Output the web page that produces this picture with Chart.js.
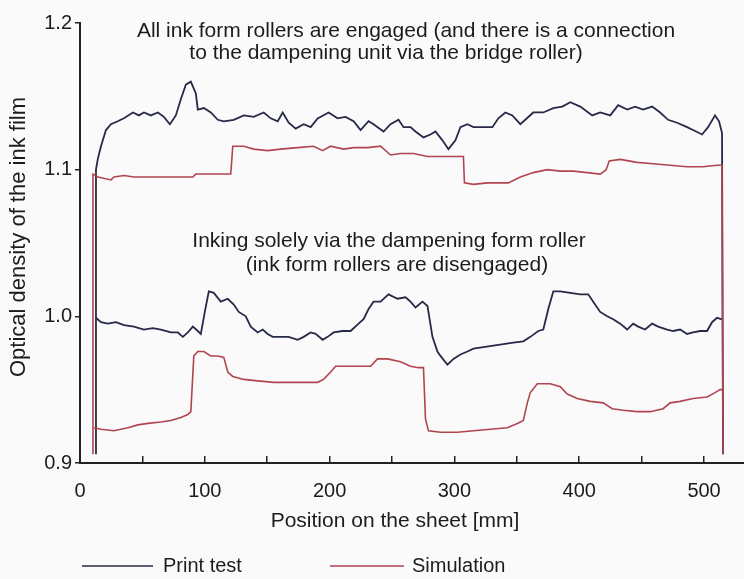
<!DOCTYPE html>
<html>
<head>
<meta charset="utf-8">
<script src="https://cdn.jsdelivr.net/npm/chart.js@4.4.1/dist/chart.umd.min.js"></script>
<style>
  body { margin: 0; background: #fafafa; }
  #wrap { width: 744px; height: 579px; }
</style>
</head>
<body>
<div id="wrap"><canvas id="myCanvasLineGraph" width="744" height="579"></canvas></div>
<script>
// positions on the sheet [mm] and optical densities
var posPrintTop = [12.8, 12.8, 14.2, 16.8, 20.8, 24.8, 30.2, 35.2, 42.4, 47.2, 51.2, 56.8, 62.4, 67.2, 72, 76.8, 80.8, 84.8, 88.8, 92.8, 94.4, 99.2, 104.8, 110.4, 115.2, 123.2, 131.2, 139.2, 147.2, 152.8, 158.4, 162.4, 167.2, 172.8, 179.2, 184.8, 190.4, 199.2, 206.4, 212.8, 219.2, 224.8, 231.2, 235.2, 243.2, 248.8, 255.2, 259.2, 264.8, 268.8, 275.2, 280.8, 284.8, 290.4, 295.2, 300.8, 304.8, 310.4, 315.2, 322.4, 330.4, 335.2, 340.8, 346.4, 352.8, 363.2, 371.2, 379.2, 386.4, 392.8, 400.8, 410.4, 416.8, 424.8, 431.2, 438.4, 444.8, 451.2, 458.4, 464.8, 471.2, 478.4, 486.4, 491.2, 498.4, 503.2, 508.8, 512, 514.4, 515.2];
var densPrintTop = [0.906, 1.100, 1.107, 1.116, 1.127, 1.131, 1.133, 1.135, 1.139, 1.137, 1.139, 1.137, 1.139, 1.136, 1.131, 1.137, 1.148, 1.158, 1.160, 1.152, 1.141, 1.142, 1.139, 1.134, 1.133, 1.134, 1.137, 1.136, 1.139, 1.135, 1.133, 1.139, 1.132, 1.128, 1.131, 1.129, 1.135, 1.139, 1.135, 1.136, 1.133, 1.127, 1.133, 1.131, 1.126, 1.131, 1.134, 1.129, 1.129, 1.126, 1.122, 1.124, 1.126, 1.120, 1.114, 1.120, 1.129, 1.131, 1.129, 1.129, 1.129, 1.135, 1.139, 1.137, 1.131, 1.139, 1.139, 1.142, 1.143, 1.146, 1.143, 1.137, 1.139, 1.137, 1.144, 1.141, 1.143, 1.141, 1.143, 1.139, 1.134, 1.132, 1.129, 1.127, 1.124, 1.129, 1.137, 1.133, 1.125, 0.906];

var posSimTop = [10.4, 10.4, 14.4, 24.8, 27.2, 35.2, 43.2, 54.4, 67.2, 80.8, 90.4, 92.8, 102.4, 112.8, 120.8, 122.4, 131.2, 139.2, 150.4, 160.8, 174.4, 187.2, 194.4, 200.8, 211.2, 219.2, 230.4, 240.8, 248.8, 256.8, 267.2, 278.4, 288.8, 307.2, 308, 315.2, 326.4, 336.8, 343.2, 352.8, 363.2, 374.4, 384.8, 395.2, 406.4, 416.8, 421.6, 424, 432.8, 446.4, 459.2, 472.8, 486.4, 499.2, 510.4, 514.4, 515.2];
var densSimTop = [0.906, 1.097, 1.095, 1.093, 1.095, 1.096, 1.095, 1.095, 1.095, 1.095, 1.095, 1.097, 1.097, 1.097, 1.097, 1.116, 1.116, 1.114, 1.113, 1.114, 1.115, 1.116, 1.113, 1.116, 1.114, 1.115, 1.115, 1.116, 1.110, 1.111, 1.111, 1.109, 1.109, 1.109, 1.091, 1.090, 1.091, 1.091, 1.091, 1.095, 1.098, 1.100, 1.099, 1.099, 1.098, 1.097, 1.100, 1.106, 1.107, 1.105, 1.104, 1.103, 1.102, 1.102, 1.103, 1.103, 0.906];

var posPrintBottom = [12.8, 16.8, 22.4, 28.8, 35.2, 43.2, 51.2, 58.4, 64.8, 72.8, 78.4, 82.4, 86.4, 90.4, 94.4, 96.8, 100, 103.2, 107.2, 112.8, 118.4, 123.2, 127.2, 132.8, 136.8, 142.4, 146.4, 150.4, 154.4, 160.8, 167.2, 174.4, 179.2, 184.8, 188.8, 194.4, 198.4, 203.2, 210.4, 216.8, 223.2, 227.2, 231.2, 235.2, 240.8, 247.2, 254.4, 260.8, 264.8, 268.8, 274.4, 278.4, 282.4, 286.4, 288.8, 294.4, 299.2, 304.8, 310.4, 315.2, 323.2, 331.2, 339.2, 347.2, 355.2, 360.8, 367.2, 371.2, 375.2, 379.2, 384.8, 392.8, 400.8, 407.2, 411.2, 416.8, 422.4, 427.2, 432.8, 438.4, 443.2, 447.2, 452.8, 458.4, 463.2, 470.4, 475.2, 480.8, 486.4, 491.2, 496.8, 502.4, 506.4, 510.4, 514.4];
var densPrintBottom = [0.999, 0.996, 0.995, 0.996, 0.994, 0.993, 0.991, 0.992, 0.991, 0.989, 0.989, 0.986, 0.989, 0.993, 0.990, 0.988, 1.003, 1.017, 1.016, 1.010, 1.012, 1.008, 1.003, 1.000, 0.993, 0.989, 0.991, 0.988, 0.986, 0.986, 0.986, 0.984, 0.986, 0.989, 0.988, 0.984, 0.986, 0.989, 0.990, 0.990, 0.995, 0.998, 1.005, 1.010, 1.010, 1.015, 1.012, 1.013, 1.010, 1.006, 1.010, 1.007, 0.986, 0.976, 0.973, 0.967, 0.971, 0.974, 0.976, 0.978, 0.979, 0.980, 0.981, 0.982, 0.983, 0.986, 0.990, 0.991, 1.005, 1.017, 1.017, 1.016, 1.015, 1.015, 1.010, 1.003, 1.000, 0.998, 0.995, 0.991, 0.995, 0.993, 0.991, 0.995, 0.993, 0.991, 0.990, 0.991, 0.988, 0.989, 0.990, 0.990, 0.996, 0.999, 0.998];

var posSimBottom = [11.2, 16.8, 27.2, 38.4, 46.4, 54.4, 64.8, 72.8, 80.8, 86.4, 88.8, 91.2, 94.4, 99.2, 104.8, 110.4, 115.2, 118.4, 122.4, 131.2, 142.4, 155.2, 168.8, 184.8, 190.4, 195.2, 200.8, 204.8, 214.4, 224.8, 232.8, 238.4, 246.4, 256.8, 264.8, 271.2, 275.2, 276.8, 279.2, 288.8, 302.4, 315.2, 328.8, 342.4, 350.4, 355.2, 358.4, 360.8, 366.4, 376.8, 384.8, 390.4, 398.4, 408.8, 419.2, 426.4, 435.2, 446.4, 456.8, 467.2, 472.8, 480.8, 491.2, 502.4, 508.8, 512.8, 515.2];
var densSimBottom = [0.924, 0.923, 0.922, 0.924, 0.926, 0.927, 0.928, 0.929, 0.931, 0.933, 0.935, 0.973, 0.976, 0.976, 0.973, 0.973, 0.972, 0.962, 0.959, 0.957, 0.956, 0.955, 0.955, 0.955, 0.955, 0.957, 0.962, 0.966, 0.966, 0.966, 0.966, 0.971, 0.971, 0.969, 0.966, 0.965, 0.965, 0.930, 0.922, 0.921, 0.921, 0.922, 0.923, 0.924, 0.927, 0.929, 0.941, 0.948, 0.954, 0.954, 0.952, 0.947, 0.944, 0.942, 0.941, 0.937, 0.936, 0.935, 0.935, 0.937, 0.941, 0.942, 0.944, 0.945, 0.948, 0.950, 0.950];

var xTickValues = [0, 50, 100, 150, 200, 250, 300, 350, 400, 450, 500];
var yTickValues = [0.9, 1.0, 1.1, 1.2];

var seriesNames = ['Print test', 'Simulation'];
var noteTop = ['All ink form rollers are engaged (and there is a connection', 'to the dampening unit via the bridge roller)'];
var noteBottom = ['Inking solely via the dampening form roller', '(ink form rollers are disengaged)'];
var xTitle = 'Position on the sheet [mm]';
var yTitle = 'Optical density of the ink film';

var printColor = '#272a47';
var simColor = '#b0444f';
var textColor = '#1c1c1c';
var fontFamily = "'Liberation Sans', Arial, sans-serif";

function pairs(xs, ys){
	var out = [];
	for (var i = 0; i < Math.min(xs.length, ys.length); i++) {
		out.push({x: xs[i], y: ys[i]});
	}
	return out;
}

function line(label, xs, ys, color, width){
	return {
		label: label,
		data: pairs(xs, ys),
		borderColor: color,
		backgroundColor: color,
		borderWidth: width,
		pointRadius: 0,
		tension: 0,
		fill: false
	};
}

// titles, notes and legend are drawn straight on the canvas
var textPlugin = {
	id: 'figureText',
	afterDraw: function(chart){
		var ctx = chart.ctx;
		ctx.save();
		ctx.fillStyle = textColor;
		ctx.textBaseline = 'middle';
		ctx.textAlign = 'center';
		ctx.font = '21px ' + fontFamily;
		ctx.fillText(noteTop[0], 406, 31);
		ctx.fillText(noteTop[1], 386, 53);
		ctx.fillText(noteBottom[0], 389, 241);
		ctx.fillText(noteBottom[1], 397, 265);

		ctx.fillText(xTitle, 395, 521);

		ctx.save();
		ctx.translate(19, 237);
		ctx.rotate(-Math.PI / 2);
		ctx.font = '22px ' + fontFamily;
		ctx.fillText(yTitle, 0, 0);
		ctx.restore();

		// legend
		ctx.font = '20px ' + fontFamily;
		ctx.textAlign = 'left';
		ctx.lineWidth = 1.5;
		ctx.strokeStyle = printColor;
		ctx.beginPath(); ctx.moveTo(82, 566); ctx.lineTo(153, 566); ctx.stroke();
		ctx.fillText(seriesNames[0], 163, 566);
		ctx.strokeStyle = simColor;
		ctx.beginPath(); ctx.moveTo(330, 566); ctx.lineTo(404, 566); ctx.stroke();
		ctx.fillText(seriesNames[1], 412, 566);
		ctx.restore();
	}
};

var chartdata = {
	datasets: [
		line(seriesNames[1], posSimTop, densSimTop, simColor, 1.6),
		line(seriesNames[1], posSimBottom, densSimBottom, simColor, 1.6),
		line(seriesNames[0], posPrintTop, densPrintTop, printColor, 1.8),
		line(seriesNames[0], posPrintBottom, densPrintBottom, printColor, 1.8)
	]
};

var ctx = document.getElementById('myCanvasLineGraph');

var lineGraph = new Chart(ctx, {
	type: 'line',
	data: chartdata,
	plugins: [textPlugin],
	options: {
		responsive: false,
		animation: false,
		layout: { padding: { top: 23, right: 0, bottom: 0, left: 0 } },
		plugins: {
			legend: { display: false },
			tooltip: { enabled: false }
		},
		scales: {
			x: {
				type: 'linear',
				min: 0,
				max: 532,
				afterFit: function(scale){ scale.height = 116; },
				afterBuildTicks: function(scale){
					scale.ticks = xTickValues.map(function(v){ return {value: v}; });
				},
				border: { color: '#222', width: 2 },
				grid: { drawOnChartArea: false, drawTicks: true, tickLength: -7, color: '#222', lineWidth: 1.5 },
				ticks: {
					autoSkip: false,
					maxRotation: 0,
					padding: 23,
					color: textColor,
					font: { family: fontFamily, size: 20 },
					callback: function(v){ return v % 100 === 0 ? String(v) : ''; }
				}
			},
			y: {
				min: 0.9,
				max: 1.2,
				afterFit: function(scale){ scale.width = 80; },
				afterBuildTicks: function(scale){
					scale.ticks = yTickValues.map(function(v){ return {value: v}; });
				},
				border: { color: '#222', width: 2 },
				grid: { drawOnChartArea: false, drawTicks: true, tickLength: 5, color: '#222', lineWidth: 1.5 },
				ticks: {
					padding: 3,
					color: textColor,
					font: { family: fontFamily, size: 20 },
					callback: function(v){ return Number(v).toFixed(1); }
				}
			}
		}
	}
});
</script>
</body>
</html>
